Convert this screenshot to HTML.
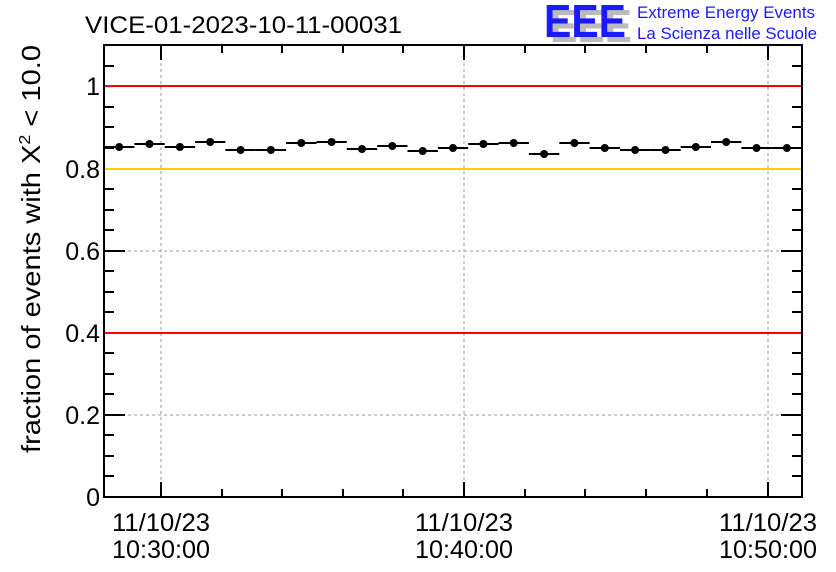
<!DOCTYPE html>
<html><head><meta charset="utf-8"><style>body{margin:0;background:#fff}svg{display:block}</style></head><body>
<svg width="836" height="572" xmlns="http://www.w3.org/2000/svg" font-family="Liberation Sans, sans-serif">
<rect width="836" height="572" fill="#fff"/>
<g stroke="#999" stroke-width="1" stroke-dasharray="3,3">
<line x1="161" y1="45" x2="161" y2="497"/><line x1="464" y1="45" x2="464" y2="497"/><line x1="768" y1="45" x2="768" y2="497"/>
<line x1="104" y1="415" x2="802" y2="415"/><line x1="104" y1="251" x2="802" y2="251"/>
</g>
<g stroke="#000" stroke-width="2" fill="none">
<rect x="104" y="45" width="698" height="452"/>
<path d="M161 497v-15M464 497v-15M768 497v-15M161 45v15M464 45v15M768 45v15
M222 497v-8M282 497v-8M343 497v-8M403 497v-8M525 497v-8M585 497v-8M646 497v-8M707 497v-8
M222 45v8M282 45v8M343 45v8M403 45v8M525 45v8M585 45v8M646 45v8M707 45v8
M104 415h21M104 333h21M104 251h21M104 169h21M104 86h21
M802 415h-21M802 333h-21M802 251h-21M802 169h-21M802 86h-21
M104 476h10M104 456h10M104 435h10M104 394h10M104 374h10M104 353h10M104 312h10M104 292h10M104 271h10M104 230h10M104 210h10M104 189h10M104 148h10M104 127h10M104 107h10M104 66h10
M802 476h-10M802 456h-10M802 435h-10M802 394h-10M802 374h-10M802 353h-10M802 312h-10M802 292h-10M802 271h-10M802 230h-10M802 210h-10M802 189h-10M802 148h-10M802 127h-10M802 107h-10M802 66h-10"/>
</g>
<line x1="105" y1="86" x2="801" y2="86" stroke="#f00" stroke-width="2"/>
<line x1="105" y1="333" x2="801" y2="333" stroke="#f00" stroke-width="2"/>
<line x1="105" y1="169" x2="801" y2="169" stroke="#fc0" stroke-width="2"/>
<g stroke="#000" stroke-width="2">
<line x1="104" y1="147" x2="134.4" y2="147"/><line x1="134.4" y1="144" x2="164.7" y2="144"/><line x1="164.7" y1="147" x2="195.1" y2="147"/><line x1="195.1" y1="142" x2="225.4" y2="142"/><line x1="225.4" y1="150" x2="255.8" y2="150"/><line x1="255.8" y1="150" x2="286.1" y2="150"/><line x1="286.1" y1="143" x2="316.5" y2="143"/><line x1="316.5" y1="142" x2="346.8" y2="142"/><line x1="346.8" y1="149" x2="377.2" y2="149"/><line x1="377.2" y1="146" x2="407.5" y2="146"/><line x1="407.5" y1="151" x2="437.9" y2="151"/><line x1="437.9" y1="148" x2="468.2" y2="148"/><line x1="468.2" y1="144" x2="498.6" y2="144"/><line x1="498.6" y1="143" x2="528.9" y2="143"/><line x1="528.9" y1="154" x2="559.3" y2="154"/><line x1="559.3" y1="143" x2="589.6" y2="143"/><line x1="589.6" y1="148" x2="620" y2="148"/><line x1="620" y1="150" x2="650.3" y2="150"/><line x1="650.3" y1="150" x2="680.7" y2="150"/><line x1="680.7" y1="147" x2="711" y2="147"/><line x1="711" y1="142" x2="741.4" y2="142"/><line x1="741.4" y1="148" x2="771.7" y2="148"/><line x1="771.7" y1="148" x2="802" y2="148"/>
</g>
<g fill="#000">
<circle cx="119.2" cy="147" r="4"/><circle cx="149.5" cy="144" r="4"/><circle cx="179.9" cy="147" r="4"/><circle cx="210.2" cy="142" r="4"/><circle cx="240.6" cy="150" r="4"/><circle cx="270.9" cy="150" r="4"/><circle cx="301.3" cy="143" r="4"/><circle cx="331.6" cy="142" r="4"/><circle cx="362" cy="149" r="4"/><circle cx="392.3" cy="146" r="4"/><circle cx="422.7" cy="151" r="4"/><circle cx="453" cy="148" r="4"/><circle cx="483.4" cy="144" r="4"/><circle cx="513.7" cy="143" r="4"/><circle cx="544.1" cy="154" r="4"/><circle cx="574.4" cy="143" r="4"/><circle cx="604.8" cy="148" r="4"/><circle cx="635.1" cy="150" r="4"/><circle cx="665.5" cy="150" r="4"/><circle cx="695.8" cy="147" r="4"/><circle cx="726.2" cy="142" r="4"/><circle cx="756.5" cy="148" r="4"/><circle cx="786.9" cy="148" r="4"/>
</g>
<g font-size="25" fill="#000" text-anchor="end">
<text x="100" y="506">0</text><text x="100" y="424">0.2</text><text x="100" y="342">0.4</text><text x="100" y="260">0.6</text><text x="100" y="178">0.8</text><text x="100" y="95">1</text>
</g>
<g font-size="25" fill="#000" text-anchor="middle">
<text x="161" y="531" textLength="98" lengthAdjust="spacingAndGlyphs">11/10/23</text><text x="161" y="558" textLength="98" lengthAdjust="spacingAndGlyphs">10:30:00</text>
<text x="464" y="531" textLength="98" lengthAdjust="spacingAndGlyphs">11/10/23</text><text x="464" y="558" textLength="98" lengthAdjust="spacingAndGlyphs">10:40:00</text>
<text x="768" y="531" textLength="98" lengthAdjust="spacingAndGlyphs">11/10/23</text><text x="768" y="558" textLength="98" lengthAdjust="spacingAndGlyphs">10:50:00</text>
</g>
<text x="85" y="33" font-size="24" fill="#000" textLength="317" lengthAdjust="spacingAndGlyphs">VICE-01-2023-10-11-00031</text>
<text transform="translate(40,453) rotate(-90)" font-size="26" fill="#000" textLength="408" lengthAdjust="spacingAndGlyphs">fraction of events with Χ<tspan dy="-10" font-size="16">2</tspan><tspan dy="10"> &lt; 10.0</tspan></text>
<g font-size="46" font-weight="bold">
<text x="550" y="42" fill="#bbb" textLength="82" lengthAdjust="spacingAndGlyphs">EEE</text>
<text x="544" y="37" fill="#1a1aff" textLength="82" lengthAdjust="spacingAndGlyphs">EEE</text>
</g>
<text x="637" y="18" font-size="17" fill="#1a1aff" textLength="178" lengthAdjust="spacingAndGlyphs">Extreme Energy Events</text>
<text x="637" y="39" font-size="17" fill="#1a1aff" textLength="180" lengthAdjust="spacingAndGlyphs">La Scienza nelle Scuole</text>
</svg>
</body></html>
